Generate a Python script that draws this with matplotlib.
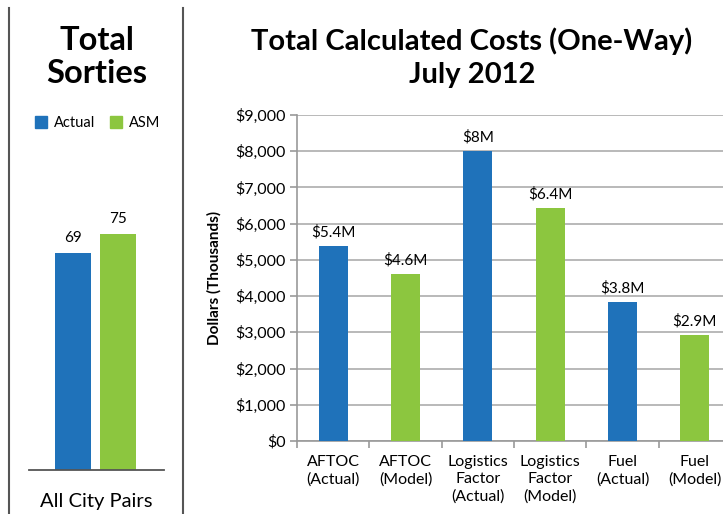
import numpy as np
import matplotlib.pyplot as plt
from matplotlib.lines import Line2D
from matplotlib.patches import Patch

plt.rcParams['font.family'] = ['Lato', 'DejaVu Sans']

# データ
sortie_labels = ['Actual', 'ASM']
sortie_values = [69, 75]

cost_categories = ['AFTOC\n(Actual)', 'AFTOC\n(Model)', 'Logistics\nFactor\n(Actual)',
                   'Logistics\nFactor\n(Model)', 'Fuel\n(Actual)', 'Fuel\n(Model)']
cost_values = [5390, 4600, 8000, 6420, 3840, 2930]
cost_labels = ['$5.4M', '$4.6M', '$8M', '$6.4M', '$3.8M', '$2.9M']
y_ticks = np.arange(0, 9001, 1000)

blue = '#1F72BA'
green = '#8CC63F'
colors = [blue, green, blue, green, blue, green]

W, H = 723, 514
fig = plt.figure(figsize=(W / 100, H / 100), dpi=100)


def px_axes(x0, y0, x1, y1):
    # ピクセル座標 (上基準) で axes を作る
    return fig.add_axes([x0 / W, 1 - y1 / H, (x1 - x0) / W, (y1 - y0) / H])


# 区切り線
fig.add_artist(Line2D([9 / W, 9 / W], [0, 1 - 8 / H], color='#555555', lw=1.5))
fig.add_artist(Line2D([183 / W, 183 / W], [0, 1 - 8 / H], color='#555555', lw=1.5))

# 左パネル
ax1 = px_axes(29, 156, 164, 470)
ax1.bar([0, 1], sortie_values, width=0.8, color=[blue, green])
ax1.set_xlim(-0.98, 2.02)
ax1.set_ylim(0, 100)
for i, v in enumerate(sortie_values):
    ax1.text(i, v + 2.8, str(v), ha='center', va='bottom', fontsize=11)
for s in ['top', 'right', 'left']:
    ax1.spines[s].set_visible(False)
ax1.spines['bottom'].set_color('#555555')
ax1.spines['bottom'].set_linewidth(1.3)
ax1.set_xticks([])
ax1.set_yticks([])

fig.text(97 / W, 1 - 57 / H, 'Total\nSorties', ha='center', va='center',
         fontsize=23.5, fontweight='bold', linespacing=1.2)
fig.text(96 / W, 1 - 502 / H, 'All City Pairs', ha='center', va='center', fontsize=14.5)
handles = [Patch(color=blue, label='Actual'), Patch(color=green, label='ASM')]
fig.legend(handles=handles, loc='center', bbox_to_anchor=(98 / W, 1 - 123 / H), ncol=2,
           frameon=False, fontsize=10.5, handlelength=0.8, handleheight=0.8,
           handletextpad=0.5, columnspacing=1.0)

# 右パネル
ax2 = px_axes(297, 115, 731, 441)
x = np.arange(len(cost_values))
ax2.bar(x, cost_values, width=0.4, color=colors, zorder=3)
ax2.set_xlim(-0.5, len(cost_values) - 0.5)
ax2.set_ylim(0, 9000)
ax2.set_yticks(y_ticks)
ax2.set_yticklabels(['${:,}'.format(v) for v in y_ticks], fontsize=11.5)
ax2.yaxis.grid(True, color='#b3b3b3', lw=1.3, zorder=0)
ax2.set_xticks(np.arange(len(cost_values) + 1) - 0.5)
ax2.set_xticklabels([])
ax2.set_xticks(x, minor=True)
ax2.set_xticklabels(cost_categories, minor=True, fontsize=11.5, linespacing=1.3, va='top')
ax2.tick_params(axis='x', which='minor', length=0, pad=10)
ax2.tick_params(axis='x', which='major', length=5, color='#999999', width=1.2)
ax2.tick_params(axis='y', length=5, color='#999999', width=1.2, pad=3)
for s in ['top', 'right']:
    ax2.spines[s].set_visible(False)
ax2.spines['left'].set_color('#999999')
ax2.spines['bottom'].set_color('#999999')
ax2.spines['left'].set_linewidth(1.2)
ax2.spines['bottom'].set_linewidth(1.2)
for i, v in enumerate(cost_values):
    ax2.text(i, v + 180, cost_labels[i], ha='center', va='bottom', fontsize=11)
ax2.set_ylabel('Dollars (Thousands)', fontsize=11, fontweight='bold', labelpad=10)

fig.text(472 / W, 1 - 58 / H, 'Total Calculated Costs (One-Way)\nJuly 2012', ha='center',
         va='center', fontsize=21, fontweight='bold', linespacing=1.35)

fig.savefig('out.png', dpi=100)
